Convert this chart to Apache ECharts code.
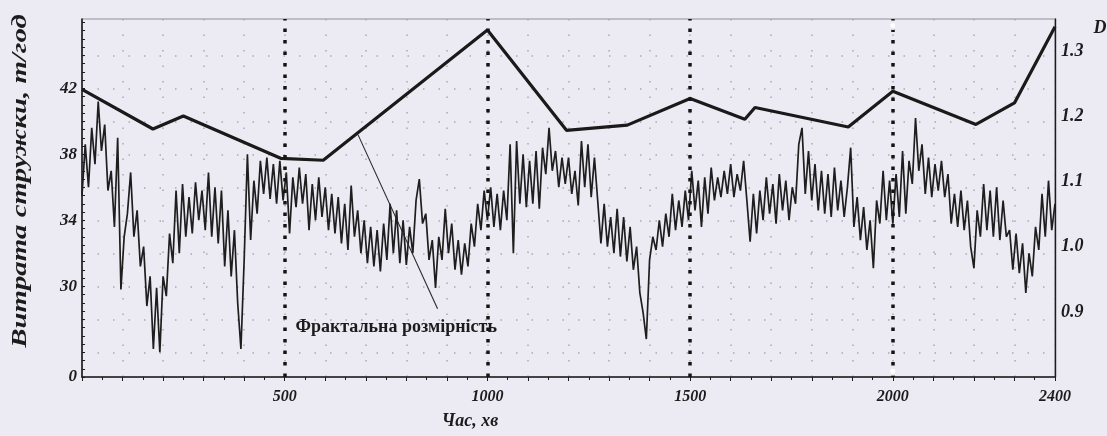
<!DOCTYPE html>
<html>
<head>
<meta charset="utf-8">
<script src="https://cdn.jsdelivr.net/npm/echarts@6/dist/echarts.min.js"></script>
<style>
html,body{margin:0;padding:0;background:#ecebf3;}
#chart{width:1107px;height:436px;}
</style>
</head>
<body>
<div id="chart"></div>
<script>
// ---- data ----
// Chip consumption (t/h), sampled every 8 minutes, t = 0 .. 2400
const flowStep = 8;
const flowVals = [
  35.5, 38.6, 36.0, 39.6, 37.4, 41.2, 38.2, 39.8, 35.8, 37.0,
  33.6, 39.0, 29.8, 33.0, 34.4, 36.9, 33.0, 34.6, 31.2, 32.4,
  28.8, 30.6, 26.2, 29.9, 26.0, 30.6, 29.4, 33.2, 31.4, 35.8,
  32.0, 36.2, 33.0, 35.4, 33.2, 36.3, 34.0, 35.8, 33.4, 36.9,
  33.0, 36.0, 32.6, 35.8, 31.2, 34.6, 30.6, 33.4, 29.0, 26.2,
  31.6, 38.0, 32.8, 36.4, 34.4, 37.6, 35.6, 37.8, 35.3, 37.4,
  35.0, 37.6, 35.2, 36.9, 33.2, 36.6, 34.8, 37.2, 35.0, 36.8,
  33.4, 36.2, 34.0, 36.6, 34.2, 36.0, 33.4, 35.6, 33.2, 35.4,
  32.6, 35.0, 32.2, 36.1, 33.0, 34.6, 32.0, 34.0, 31.4, 33.6,
  31.2, 33.4, 30.9, 33.8, 31.6, 35.0, 32.0, 34.6, 31.4, 34.0,
  31.3, 33.6, 32.0, 35.2, 36.5, 33.8, 34.4, 31.6, 32.8, 29.9,
  33.0, 31.6, 34.7, 32.0, 33.8, 31.0, 32.8, 30.7, 32.6, 31.2,
  33.8, 32.4, 35.0, 33.4, 35.8, 34.0, 36.0, 33.6, 35.6, 33.4,
  35.8, 34.0, 38.6, 32.0, 38.8, 35.0, 38.0, 34.8, 37.6, 35.0,
  38.2, 34.7, 38.4, 36.8, 39.6, 37.0, 38.2, 36.0, 37.8, 36.2,
  37.8, 35.6, 37.0, 34.9, 38.8, 36.0, 38.6, 35.4, 37.8, 35.2,
  32.6, 35.0, 32.4, 34.2, 32.0, 34.7, 31.8, 34.2, 31.5, 33.6,
  31.0, 32.4, 29.6, 28.4, 26.8, 31.6, 33.0, 32.2, 34.0, 32.4,
  34.4, 33.0, 35.6, 33.4, 35.2, 33.6, 35.8, 34.0, 37.0, 34.6,
  36.4, 33.6, 36.6, 34.4, 37.2, 35.2, 36.6, 35.4, 37.0, 35.6,
  37.4, 35.4, 36.8, 35.8, 37.6, 35.2, 32.7, 35.6, 33.2, 35.8,
  34.0, 36.6, 34.4, 36.2, 33.8, 36.8, 34.6, 36.4, 34.0, 36.0,
  35.0, 38.6, 39.6, 35.6, 38.2, 35.2, 37.4, 34.6, 37.0, 34.4,
  36.8, 34.2, 37.2, 34.6, 36.4, 34.2, 36.0, 38.4, 33.6, 35.4,
  32.8, 34.8, 32.2, 34.0, 31.1, 35.2, 33.8, 37.0, 34.0, 36.4,
  33.8, 36.8, 34.2, 38.2, 34.4, 37.6, 36.2, 40.2, 37.0, 38.6,
  35.6, 37.8, 35.4, 37.4, 35.8, 37.6, 35.4, 36.8, 33.8, 35.6,
  33.6, 35.8, 33.4, 35.2, 32.4, 31.1, 34.6, 33.0, 36.2, 33.4,
  35.8, 33.0, 36.0, 32.8, 35.2, 33.0, 33.4, 31.0, 33.2, 30.8,
  32.6, 29.6, 32.0, 30.6, 33.6, 32.2, 35.6, 33.0, 36.4, 33.4, 35.0
];
// Fractal dimension D (right axis)
const fracTime = [0, 175, 250, 490, 595, 1000, 1195, 1345, 1500, 1635, 1660, 1890, 2000, 2205, 2300, 2400];
const fracVals = [1.242, 1.181, 1.201, 1.136, 1.133, 1.333, 1.179, 1.187, 1.228, 1.196, 1.214, 1.184, 1.239, 1.188, 1.221, 1.338];
// Ticks / labels
const xLabelValues = [500, 1000, 1500, 2000, 2400];
const leftLabelValues = [30, 34, 38, 42];
const leftGridValues = [26, 28, 30, 32, 34, 36, 38, 40, 42, 44];
const rightLabelValues = [0.9, 1.0, 1.1, 1.2, 1.3];
const markTimes = [500, 1000, 1500, 2000];
const yTitle = 'Витрата стружки, т/год';
const xTitle = 'Час, хв';
const fracLabel = 'Фрактальна розмірність';

// ---- chart ----
const LMIN = 24.5, LMAX = 46.2;
const flowData = flowVals.map((v, i) => [i * flowStep, v]);
const fracData = fracTime.map((t, i) => [t, fracVals[i]]);
const ink = '#1c1c1c';
const bg = '#ecebf3';
const gridCol = '#a9a9b2';
const serifBI = {fontFamily: '"Liberation Serif", serif', fontStyle: 'italic', fontWeight: 'bold', color: ink};
const leftTickValues = [];
for (let k = 0; k <= 43; k++) leftTickValues.push(+(LMIN + k * 0.5).toFixed(2));

const chart = echarts.init(document.getElementById('chart'), null, {renderer: 'canvas'});
chart.setOption({
  backgroundColor: bg,
  animation: false,
  grid: {left: 82, right: 52, top: 19, bottom: 59, show: true, borderColor: '#8f8f96', borderWidth: 1, backgroundColor: 'transparent'},
  xAxis: {
    type: 'value', min: 0, max: 2400, interval: 100,
    axisLine: {show: true, lineStyle: {color: ink, width: 1.6}},
    axisTick: {show: true, length: 4, lineStyle: {color: ink}},
    minorTick: {show: true, splitNumber: 2, length: 3, lineStyle: {color: ink}},
    axisLabel: Object.assign({customValues: xLabelValues, fontSize: 16, margin: 12, formatter: v => String(v)}, serifBI),
    splitLine: {show: true, lineStyle: {color: gridCol, type: [1.5, 14], width: 1.5}}
  },
  yAxis: [
    {
      type: 'value', min: LMIN, max: LMAX, position: 'left',
      axisLine: {show: true, lineStyle: {color: ink, width: 1.6}},
      axisTick: {show: true, customValues: leftTickValues, length: 3, inside: true, lineStyle: {color: ink}},
      axisLabel: Object.assign({
        customValues: [LMIN].concat(leftLabelValues), fontSize: 17, margin: 5,
        formatter: v => (Math.abs(v - LMIN) < 0.01 ? '0' : String(Math.round(v)))
      }, serifBI),
      splitLine: {show: false}
    },
    {
      type: 'value', min: LMIN, max: LMAX, position: 'left',
      axisLine: {show: false},
      axisTick: {show: false, customValues: leftGridValues},
      axisLabel: {show: false},
      splitLine: {show: true, lineStyle: {color: gridCol, type: [1.5, 14], width: 1.5}}
    },
    {
      type: 'value', min: 0.8, max: 1.35, interval: 0.05, position: 'right',
      axisLine: {show: true, lineStyle: {color: ink, width: 1.4}},
      axisTick: {show: false},
      axisLabel: Object.assign({
        customValues: rightLabelValues, fontSize: 18, margin: 6,
        formatter: v => v.toFixed(1)
      }, serifBI),
      splitLine: {show: false}
    }
  ],
  series: [
    {
      name: 'flow', type: 'line', yAxisIndex: 0, data: flowData,
      symbol: 'none', showSymbol: false,
      lineStyle: {color: '#1e1e1e', width: 1.7},
      markLine: {
        silent: true, symbol: 'none', label: {show: false},
        lineStyle: {color: '#141414', width: 3.5, type: [3.5, 8]},
        data: markTimes.map(t => ({xAxis: t}))
      },
      markPoint: {
        silent: true, symbol: 'emptyCircle', symbolSize: 7,
        itemStyle: {color: bg, borderColor: '#333', borderWidth: 1.3},
        label: {show: false},
        data: [{coord: [2000, 45.8]}, {coord: [2000, 24.85]}]
      },
      z: 2
    },
    {
      name: 'D', type: 'line', yAxisIndex: 2, data: fracData,
      symbol: 'none', showSymbol: false,
      lineStyle: {color: '#1a1a1a', width: 3.2},
      markLine: {
        silent: true, symbol: 'none', label: {show: false},
        lineStyle: {color: '#2a2a2a', width: 1.1, type: 'solid'},
        data: [[{coord: [681, 1.172]}, {coord: [877, 0.905]}]]
      },
      markPoint: {
        silent: true, symbol: 'rect', symbolSize: 1,
        itemStyle: {color: 'rgba(0,0,0,0)'},
        label: {
          show: true, position: 'inside', formatter: fracLabel,
          fontFamily: '"Liberation Serif", serif', fontWeight: 'bold', fontSize: 18, color: ink
        },
        data: [{coord: [775, 0.877]}]
      },
      z: 3
    }
  ],
  graphic: [
    {type: 'text', x: 21, y: 181, rotation: Math.PI / 2, scaleX: 1.44,
     style: {text: yTitle, font: 'italic bold 20px "Liberation Serif"', fill: ink, align: 'center', verticalAlign: 'middle'}},
    {type: 'text', x: 470, y: 421,
     style: {text: xTitle, font: 'italic bold 18px "Liberation Serif"', fill: ink, align: 'center', verticalAlign: 'middle'}},
    {type: 'text', x: 1100, y: 28,
     style: {text: 'D', font: 'italic bold 18px "Liberation Serif"', fill: ink, align: 'center', verticalAlign: 'middle'}}
  ]
});
</script>
</body>
</html>
